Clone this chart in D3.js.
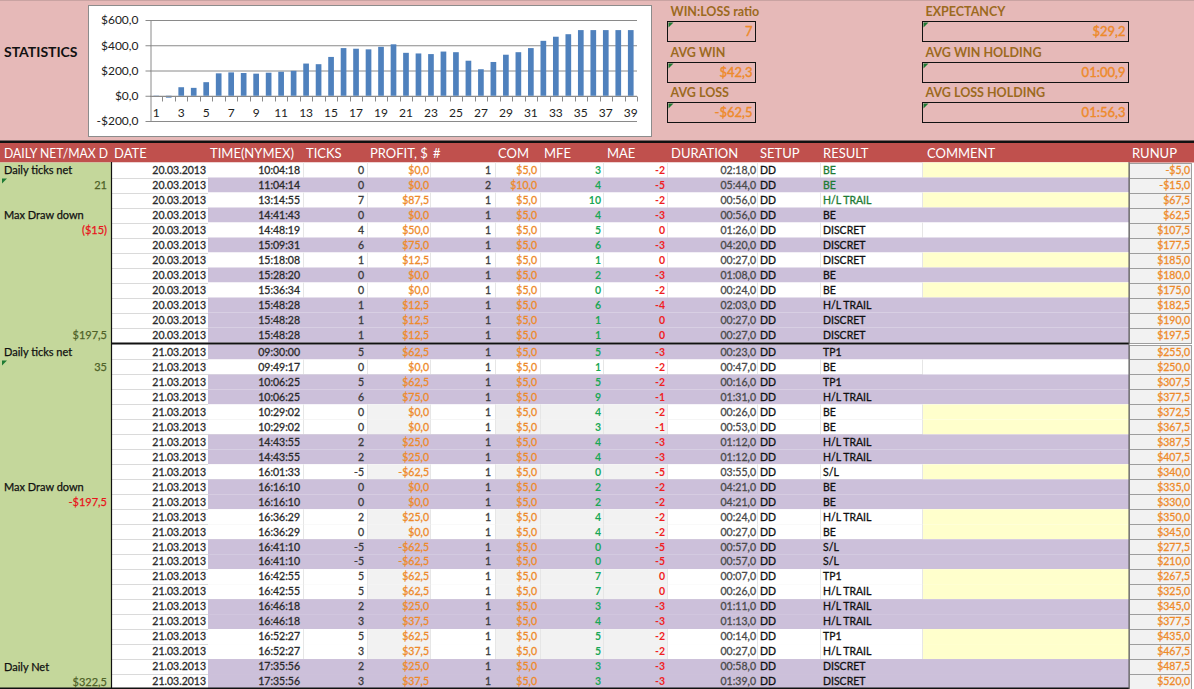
<!DOCTYPE html>
<html><head><meta charset="utf-8">
<script src="https://cdn.jsdelivr.net/npm/d3@7"></script>
<style>
html,body{margin:0;padding:0;background:#fff;overflow:hidden}
svg{display:block;font-family:Lato,"Open Sans",sans-serif}
</style></head><body>
<svg id="c" width="1194" height="689"></svg>
<script>
// ---------- DATA ----------
const chartCategories = [1,2,3,4,5,6,7,8,9,10,11,12,13,14,15,16,17,18,19,20,21,22,23,24,25,26,27,28,29,30,31,32,33,34,35,36,37,38,39];
const chartValues = [-5,-15,67.5,62.5,107.5,177.5,185,180,175,182.5,190,197.5,255,250,307.5,377.5,372.5,367.5,387.5,407.5,340,335,330,350,345,277.5,210,267.5,325,345,377.5,435,467.5,487.5,520,520,520,520,520];
const chartTicks = [-200,0,200,400,600];
const chartLabelCats = [1,3,5,7,9,11,13,15,17,19,21,23,25,27,29,31,33,35,37,39];

const statLabels = ["WIN:LOSS ratio","AVG WIN","AVG LOSS","EXPECTANCY","AVG WIN HOLDING","AVG LOSS HOLDING"];
const statValues = ["7","$42,3","-$62,5","$29,2","01:00,9","01:56,3"];

const headerLabels = ["DAILY NET/MAX D","DATE","TIME(NYMEX)","TICKS","PROFIT, $","#","COM","MFE","MAE","DURATION","SETUP","RESULT","COMMENT","RUNUP"];

const dates = ["20.03.2013","20.03.2013","20.03.2013","20.03.2013","20.03.2013","20.03.2013","20.03.2013","20.03.2013","20.03.2013","20.03.2013","20.03.2013","20.03.2013",
"21.03.2013","21.03.2013","21.03.2013","21.03.2013","21.03.2013","21.03.2013","21.03.2013","21.03.2013","21.03.2013","21.03.2013","21.03.2013","21.03.2013","21.03.2013","21.03.2013","21.03.2013","21.03.2013","21.03.2013","21.03.2013","21.03.2013","21.03.2013","21.03.2013","21.03.2013","21.03.2013"];
const times = ["10:04:18","11:04:14","13:14:55","14:41:43","14:48:19","15:09:31","15:18:08","15:28:20","15:36:34","15:48:28","15:48:28","15:48:28",
"09:30:00","09:49:17","10:06:25","10:06:25","10:29:02","10:29:02","14:43:55","14:43:55","16:01:33","16:16:10","16:16:10","16:36:29","16:36:29","16:41:10","16:41:10","16:42:55","16:42:55","16:46:18","16:46:18","16:52:27","16:52:27","17:35:56","17:35:56"];
const ticks = [0,0,7,0,4,6,1,0,0,1,1,1, 5,0,5,6,0,0,2,2,-5,0,0,2,0,-5,-5,5,5,2,3,5,3,2,3];
const profits = [0,0,87.5,0,50,75,12.5,0,0,12.5,12.5,12.5, 62.5,0,62.5,75,0,0,25,25,-62.5,0,0,25,0,-62.5,-62.5,62.5,62.5,25,37.5,62.5,37.5,25,37.5];
const counts = [1,2,1,1,1,1,1,1,1,1,1,1, 1,1,1,1,1,1,1,1,1,1,1,1,1,1,1,1,1,1,1,1,1,1,1];
const coms = [5,10,5,5,5,5,5,5,5,5,5,5, 5,5,5,5,5,5,5,5,5,5,5,5,5,5,5,5,5,5,5,5,5,5,5];
const mfes = [3,4,10,4,5,6,1,2,0,6,1,1, 5,1,5,9,4,3,4,4,0,2,2,4,4,0,0,7,7,3,4,5,5,3,3];
const maes = [-2,-5,-2,-3,0,-3,0,-3,-2,-4,0,0, -3,-2,-2,-1,-2,-1,-3,-3,-5,-2,-2,-2,-2,-5,-5,0,0,-3,-3,-2,-2,-3,-3];
const durations = ["02:18,0","05:44,0","00:56,0","00:56,0","01:26,0","04:20,0","00:27,0","01:08,0","00:24,0","02:03,0","00:27,0","00:27,0",
"00:23,0","00:47,0","00:16,0","01:31,0","00:26,0","00:53,0","01:12,0","01:12,0","03:55,0","04:21,0","04:21,0","00:24,0","00:27,0","00:57,0","00:57,0","00:07,0","00:26,0","01:11,0","01:13,0","00:14,0","00:27,0","00:58,0","01:39,0"];
const setups = ["DD","DD","DD","DD","DD","DD","DD","DD","DD","DD","DD","DD","DD","DD","DD","DD","DD","DD","DD","DD","DD","DD","DD","DD","DD","DD","DD","DD","DD","DD","DD","DD","DD","DD","DD"];
const results = ["BE","BE","H/L TRAIL","BE","DISCRET","DISCRET","DISCRET","BE","BE","H/L TRAIL","DISCRET","DISCRET",
"TP1","BE","TP1","H/L TRAIL","BE","BE","H/L TRAIL","H/L TRAIL","S/L","BE","BE","H/L TRAIL","BE","S/L","S/L","TP1","H/L TRAIL","H/L TRAIL","H/L TRAIL","TP1","H/L TRAIL","DISCRET","DISCRET"];
const runups = [-5,-15,67.5,62.5,107.5,177.5,185,180,175,182.5,190,197.5,255,250,307.5,377.5,372.5,367.5,387.5,407.5,340,335,330,350,345,277.5,210,267.5,325,345,377.5,435,467.5,487.5,520];

const sideTexts = ["Daily ticks net","21","Max Draw down","($15)","$197,5","Daily ticks net","35","Max Draw down","-$197,5","Daily Net","$322,5"];
const sideRows = [0,1,3,4,11,12,13,21,22,33,34];

// ---------- STYLE CONFIG ----------
// P = purple row, W = white, Y = white + yellow comment, G = white + yellow comment + grey cells
const rowShade = ["Y","P","Y","P","W","P","Y","P","Y","P","P","P",
"P","W","P","P","G","G","P","P","G","P","P","G","G","P","P","G","G","P","P","G","G","P","P"];
const greenResultRows = [0,1,2];
const sideKinds = ["label","val","label","red","val","label","val","label","red","label","val"];

const PINK="#E6B9B8", RED_HDR="#C0504D", GREENCOL="#C4D79B", PURPLE="#CCC0DA", YELLOW="#FFFFCC", LGRAY="#F2F2F2";
const ORANGE="#EE8A2A", MFEGREEN="#1AA856", MAERED="#F01E23", DKGREEN="#1E7B34", BROWN="#9C6A1E";

const money = v => (v<0?"-":"") + "$" + Math.abs(v).toFixed(1).replace(".", ",");

const svg = d3.select("#c");
const W = 1194, H = 689;

// ---------- TOP PANEL ----------
svg.append("rect").attr("x",0).attr("y",0).attr("width",W).attr("height",141).attr("fill",PINK);
svg.append("line").attr("x1",0).attr("x2",W).attr("y1",0.5).attr("y2",0.5).attr("stroke","#c9a3a2");
svg.append("text").attr("x",4).attr("y",57).attr("font-size",14).attr("font-weight","bold").attr("fill","#111").text("STATISTICS");

// chart
const cg = svg.append("g");
cg.append("rect").attr("x",88.5).attr("y",5.5).attr("width",563).attr("height",131)
  .attr("fill","#fff").attr("stroke","#8c8c8c");
const x = d3.scaleBand().domain(chartCategories).range([150,637]).paddingInner(0.545).paddingOuter(0.2725);
const y = d3.scaleLinear().domain([-200,600]).range([121,20]);

cg.append("g").attr("transform","translate(150,0)")
  .call(d3.axisLeft(y).tickValues(chartTicks).tickSize(-487).tickFormat(""))
  .call(g=>{g.select(".domain").remove(); g.selectAll("line").attr("stroke","#8a8a8a");});
cg.append("g").attr("transform","translate(150.5,0)")
  .call(d3.axisLeft(y).tickValues(chartTicks).tickSize(5).tickSizeOuter(0).tickPadding(7).tickFormat(money))
  .call(g=>{
    g.select(".domain").attr("stroke","#8a8a8a");
    g.selectAll("line").attr("stroke","#8a8a8a");
    g.selectAll("text").attr("font-size",12).attr("fill","#222").attr("font-family","Lato,sans-serif");
  });
cg.append("g").selectAll("rect").data(chartCategories).join("rect")
  .attr("x",d=>x(d)).attr("width",x.bandwidth())
  .attr("y",(d,i)=>Math.min(y(chartValues[i]),y(0)))
  .attr("height",(d,i)=>Math.abs(y(chartValues[i])-y(0)))
  .attr("fill","#4F81BD");
const y0 = Math.round(y(0))+0.5;
const gap = (x.step()-x.bandwidth())/2;
cg.append("line").attr("x1",150).attr("x2",637).attr("y1",y0).attr("y2",y0).attr("stroke","#8a8a8a");
cg.append("g").selectAll("line").data(chartCategories).join("line")
  .attr("x1",d=>Math.round(x(d)+x.bandwidth()+gap)+0.5).attr("x2",d=>Math.round(x(d)+x.bandwidth()+gap)+0.5)
  .attr("y1",y0).attr("y2",y0+5).attr("stroke","#8a8a8a");
cg.append("g").attr("transform",`translate(0,${y0})`)
  .call(d3.axisBottom(x).tickValues(chartLabelCats).tickSize(0).tickPadding(12))
  .call(g=>{
    g.select(".domain").remove();
    g.selectAll("text").attr("font-size",12).attr("fill","#222").attr("font-family","Lato,sans-serif");
  });

// stats boxes
const statX = [667.5,667.5,667.5,922.5,922.5,922.5];
const statW = [88,88,88,206,206,206];
const statYs = [21.5,62.5,102.5,21.5,62.5,102.5];
statLabels.forEach((lab,i)=>{
  const bx=statX[i], by=statYs[i], bw=statW[i];
  svg.append("text").attr("x",bx+3).attr("y",by-6).attr("font-size",12.5).attr("font-weight","bold").attr("fill",BROWN).text(lab);
  svg.append("rect").attr("x",bx).attr("y",by).attr("width",bw).attr("height",20).attr("fill","none").attr("stroke","#111");
  svg.append("path").attr("d",`M${bx+1},${by+1}h5l-5,5z`).attr("fill","#1E7B34");
  svg.append("text").attr("x",bx+bw-3).attr("y",by+14.5).attr("text-anchor","end").attr("font-size",13)
    .attr("fill",ORANGE).attr("stroke",ORANGE).attr("stroke-width",0.4).text(statValues[i]);
});

// ---------- HEADER ----------
svg.append("rect").attr("x",0).attr("y",140.5).attr("width",W).attr("height",2.5).attr("fill","#111");
svg.append("rect").attr("x",0).attr("y",143).attr("width",W).attr("height",19.5).attr("fill",RED_HDR);
const headerX = [4,114,210,306,370,433,498,544,607,671,760,823,927,1132];
headerLabels.forEach((h,i)=>{
  const t = svg.append("text").attr("x",headerX[i]).attr("y",157.5).attr("font-size",13).attr("fill","#fff").text(h);
  if(i===0) t.attr("textLength",104).attr("lengthAdjust","spacingAndGlyphs");
});

// ---------- TABLE ----------
const n = dates.length;
const rs1 = d3.scaleBand().domain(d3.range(0,12)).range([162.5,342.5]);
const rs2 = d3.scaleBand().domain(d3.range(12,n)).range([344.5,689]);
const rTop = i => i<12 ? rs1(i) : rs2(i);
const rH = i => i<12 ? rs1.bandwidth() : rs2.bandwidth();

const bg = svg.append("g");
bg.append("rect").attr("x",0).attr("y",162.5).attr("width",111).attr("height",H-162.5).attr("fill",GREENCOL);
bg.append("rect").attr("x",111).attr("y",162.5).attr("width",97).attr("height",H-162.5).attr("fill","#fff");
d3.range(n).forEach(i=>{
  const t=rTop(i), h=rH(i), s=rowShade[i];
  bg.append("rect").attr("x",208).attr("y",t).attr("width",1129-208).attr("height",h).attr("fill",s==="P"?PURPLE:"#fff");
  if(s==="Y"||s==="G") bg.append("rect").attr("x",923).attr("y",t).attr("width",1129-923).attr("height",h).attr("fill",YELLOW);
  if(s==="G"){
    bg.append("rect").attr("x",367).attr("y",t).attr("width",63).attr("height",h).attr("fill",LGRAY);
    bg.append("rect").attr("x",495).attr("y",t).attr("width",172).attr("height",h).attr("fill",LGRAY);
  }
  bg.append("line").attr("x1",111).attr("x2",208).attr("y1",Math.round(t+h)+0.5).attr("y2",Math.round(t+h)+0.5).attr("stroke","#DADADA");
  if(s!=="P"){
    bg.append("line").attr("x1",208).attr("x2",923).attr("y1",Math.round(t+h)+0.5).attr("y2",Math.round(t+h)+0.5).attr("stroke","#E4E4E4");
    [303,367,430,495,540,603,667,757,820,922].forEach(vx=>{
      bg.append("line").attr("x1",vx+0.5).attr("x2",vx+0.5).attr("y1",t).attr("y2",t+h).attr("stroke","#E6E6E6");
    });
  }
  bg.append("rect").attr("x",1129.5).attr("y",Math.round(t)+0.5).attr("width",62).attr("height",Math.round(h)).attr("fill",LGRAY).attr("stroke","#9E9E9E");
});
bg.append("line").attr("x1",111.5).attr("x2",111.5).attr("y1",162).attr("y2",H).attr("stroke","#111").attr("stroke-width",1.2);
bg.append("rect").attr("x",111).attr("y",342.5).attr("width",1129-111).attr("height",2).attr("fill","#111");
bg.append("rect").attr("x",0).attr("y",H-1.5).attr("width",1129).attr("height",1.5).attr("fill","#111");
bg.append("line").attr("x1",1129).attr("x2",1129).attr("y1",162).attr("y2",H).attr("stroke","#555");

const cols = [
  {get:i=>dates[i], x:206, a:"end", c:"#2a2a2a"},
  {get:i=>times[i], x:300, a:"end", c:"#2a2a2a"},
  {get:i=>String(ticks[i]), x:364, a:"end", c:"#3a3a3a"},
  {get:i=>money(profits[i]), x:429, a:"end", c:ORANGE},
  {get:i=>String(counts[i]), x:491, a:"end", c:"#3a3a3a"},
  {get:i=>money(coms[i]), x:537, a:"end", c:ORANGE},
  {get:i=>String(mfes[i]), x:601, a:"end", c:MFEGREEN, b:true},
  {get:i=>String(maes[i]), x:665, a:"end", c:MAERED, b:true},
  {get:i=>durations[i], x:756, a:"end", c:"#4a4a4a"},
  {get:i=>setups[i], x:760, a:"start", c:"#111"},
  {get:i=>results[i], x:823, a:"start", c:i=>greenResultRows.includes(i)?DKGREEN:"#111"},
  {get:i=>money(runups[i]), x:1190, a:"end", c:ORANGE}
];
const tg = svg.append("g").attr("font-size",10.5);
d3.range(n).forEach(i=>{
  const cy = rTop(i)+rH(i)/2+3.8;
  cols.forEach(col=>{
    const c = typeof col.c==="function"?col.c(i):col.c;
    tg.append("text").attr("x",col.x).attr("y",cy).attr("text-anchor",col.a)
      .attr("fill",c).attr("stroke",col.b?null:c).attr("stroke-width",col.b?null:0.3)
      .attr("font-weight",col.b?"bold":null)
      .text(col.get(i));
  });
});

sideTexts.forEach((t,k)=>{
  const i = sideRows[k], kind = sideKinds[k];
  const cy = rTop(i)+rH(i)/2+4;
  const el = svg.append("text").attr("y",cy).attr("font-size",11).attr("stroke-width",0.25).text(t);
  if(kind==="label") el.attr("x",4).attr("fill","#111").attr("stroke","#111");
  else { const c = kind==="red"?"#E8141B":"#4F6228"; el.attr("x",107).attr("text-anchor","end").attr("fill",c).attr("stroke",c); }
});
[1,13].forEach(i=>{
  const t = rTop(i);
  svg.append("path").attr("d",`M2,${t+1}h5l-5,5z`).attr("fill","#1E7B34");
});
</script>
</body></html>
